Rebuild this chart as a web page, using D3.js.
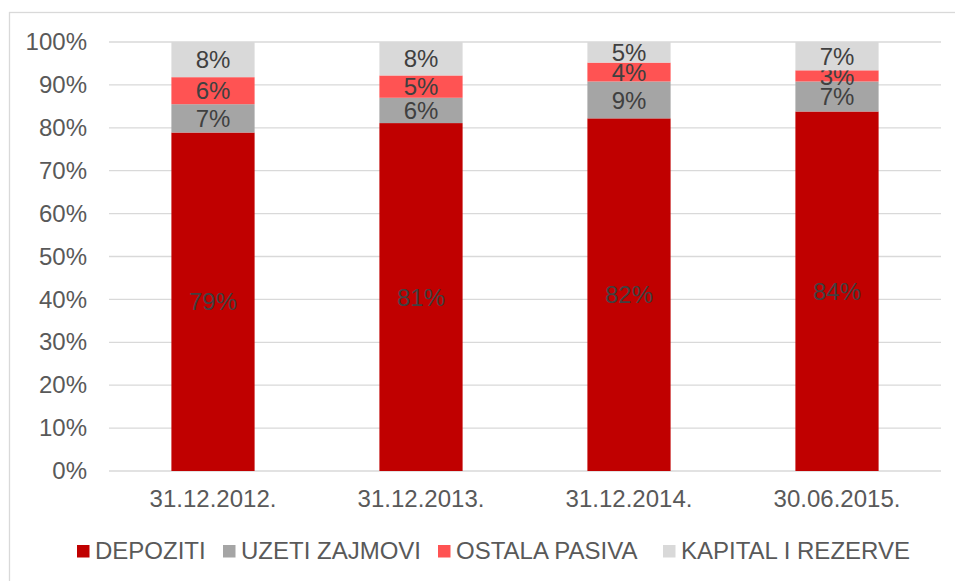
<!DOCTYPE html>
<html>
<head>
<meta charset="utf-8">
<script src="https://cdn.jsdelivr.net/npm/d3@7"></script>
<style>
  body { margin: 0; background: #fff; }
  text { font-family: "Liberation Sans", Arial, sans-serif; }
</style>
</head>
<body>
<div id="svg-chart"></div>
<script>
// data (shares of total, %)
var dates = ["31.12.2012.", "31.12.2013.", "31.12.2014.", "30.06.2015."];
var seriesNames = ["DEPOZITI", "UZETI ZAJMOVI", "OSTALA PASIVA", "KAPITAL I REZERVE"];
var depoziti = [78.9, 81.1, 82.2, 83.8];
var uzetiZajmovi = [6.6, 5.9, 8.6, 7.0];
var ostalaPasiva = [6.3, 5.2, 4.4, 2.6];
var kapitalRezerve = [8.2, 7.8, 4.8, 6.6];
var yTicks = [0, 10, 20, 30, 40, 50, 60, 70, 80, 90, 100];

var colors = ["#C00000", "#A5A5A5", "#FF5353", "#D9D9D9"];
var fontSize = "24px";

var svgWidth = 955, svgHeight = 581;
var chartMargin = { top: 42, bottom: 110, left: 109, right: 14 };
var chartWidth = svgWidth - chartMargin.left - chartMargin.right;
var chartHeight = svgHeight - chartMargin.top - chartMargin.bottom;

var svg = d3.select("#svg-chart")
    .append("svg")
    .attr("width", svgWidth)
    .attr("height", svgHeight);

// outer chart border (cut off at right and bottom)
svg.append("rect")
    .attr("x", 9.5).attr("y", 12.5)
    .attr("width", 960).attr("height", 600)
    .attr("fill", "none")
    .attr("stroke", "#D9D9D9")
    .attr("stroke-width", 1.3);

var chartGroup = svg.append("g").attr("transform", `translate(${chartMargin.left}, ${chartMargin.top})`);

var table = dates.map(function(d, i) {
    return {
        date: d,
        "DEPOZITI": depoziti[i],
        "UZETI ZAJMOVI": uzetiZajmovi[i],
        "OSTALA PASIVA": ostalaPasiva[i],
        "KAPITAL I REZERVE": kapitalRezerve[i]
    };
});

var stacked = d3.stack().keys(seriesNames)(table);

var xScale = d3.scaleBand()
    .domain(dates)
    .range([0, chartWidth])
    .paddingInner(0.6)
    .paddingOuter(0.3);

var yScale = d3.scaleLinear()
    .domain([0, 100])
    .range([chartHeight, 0]);

// gridlines
chartGroup.selectAll("line.grid")
    .data(yTicks)
    .enter()
    .append("line")
    .attr("class", "grid")
    .attr("x1", 0).attr("x2", chartWidth)
    .attr("y1", d => yScale(d)).attr("y2", d => yScale(d))
    .attr("stroke", "#D9D9D9")
    .attr("stroke-width", 1.3);

// y axis labels
var yAxis = d3.axisLeft(yScale).tickValues(yTicks).tickFormat(d => d + "%").tickSize(0).tickPadding(22);
var yG = chartGroup.append("g").call(yAxis);
yG.select(".domain").remove();
yG.selectAll("text")
    .attr("fill", "#595959")
    .style("font-size", fontSize)
    .style("font-family", "'Liberation Sans', Arial, sans-serif");

// x axis labels
var xAxis = d3.axisBottom(xScale).tickSize(0).tickPadding(19);
var xG = chartGroup.append("g")
    .attr("transform", `translate(0, ${chartHeight})`)
    .call(xAxis);
xG.select(".domain").remove();
xG.selectAll("text")
    .attr("fill", "#595959")
    .style("font-size", fontSize)
    .style("font-family", "'Liberation Sans', Arial, sans-serif");

// bars
var layers = chartGroup.selectAll("g.layer")
    .data(stacked)
    .enter()
    .append("g")
    .attr("class", "layer")
    .attr("fill", (d, i) => colors[i]);

layers.selectAll("rect")
    .data(d => d)
    .enter()
    .append("rect")
    .attr("x", d => xScale(d.data.date))
    .attr("y", d => yScale(d[1]))
    .attr("width", xScale.bandwidth())
    .attr("height", d => yScale(d[0]) - yScale(d[1]));

// data labels
layers.selectAll("text")
    .data(d => d)
    .enter()
    .append("text")
    .attr("x", d => xScale(d.data.date) + xScale.bandwidth() / 2)
    .attr("y", d => (yScale(d[0]) + yScale(d[1])) / 2)
    .attr("dy", "0.36em")
    .attr("text-anchor", "middle")
    .attr("fill", "#404040")
    .style("font-size", fontSize)
    .text(d => Math.round(d[1] - d[0]) + "%");

// legend
var legendX = [77, 223, 438, 663];
var legend = svg.selectAll("g.legend")
    .data(seriesNames)
    .enter()
    .append("g")
    .attr("class", "legend")
    .attr("transform", (d, i) => `translate(${legendX[i]}, 545)`);

legend.append("rect")
    .attr("width", 12.5).attr("height", 12.5)
    .attr("fill", (d, i) => colors[i]);

legend.append("text")
    .attr("x", 18)
    .attr("y", 14)
    .attr("fill", "#595959")
    .style("font-size", fontSize)
    .text(d => d);
</script>
</body>
</html>
